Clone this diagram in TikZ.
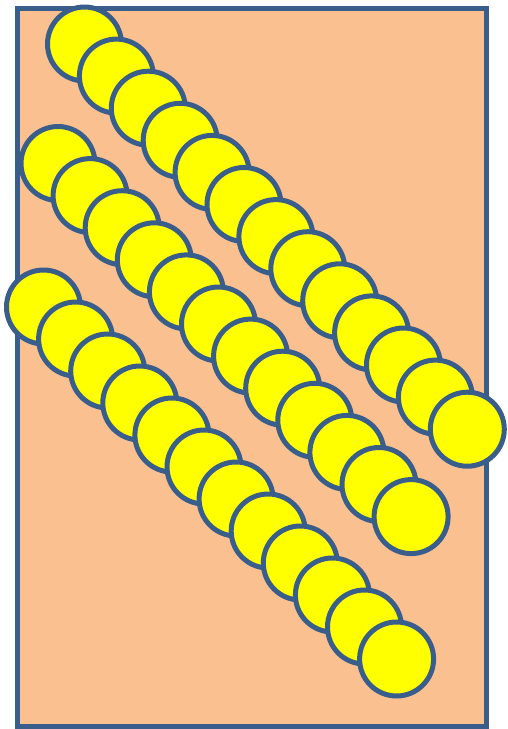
\documentclass[tikz,border=0pt]{standalone}
\usepackage{tikz}
\usepackage{xcolor}
\definecolor{trayfill}{HTML}{FAC090}
\definecolor{rimblue}{HTML}{3A5E8C}
\definecolor{ballyellow}{RGB}{255,255,0}

\begin{document}
\begin{tikzpicture}[x=1pt, y=-1pt,
  tray/.style={draw=rimblue, line width=5pt, fill=trayfill},
  ball/.style={circle, draw=rimblue, line width=5pt, fill=ballyellow,
               minimum size=74pt, inner sep=0pt},
]
\useasboundingbox (0,0) rectangle (507,729);

% Tray
\draw[tray] (17,8) rectangle (486,726);

% Top row
\foreach \i in {0,...,12}
  \node[ball] (a\i) at (84.5+31.9*\i, 44+32.1*\i) {};

% Middle row
\foreach \i in {0,...,11}
  \node[ball] (b\i) at (58+32.1*\i, 163.5+32.1*\i) {};

% Bottom row
\foreach \i in {0,...,11}
  \node[ball] (c\i) at (43.5+32.1*\i, 307+32*\i) {};

\end{tikzpicture}
\end{document}
